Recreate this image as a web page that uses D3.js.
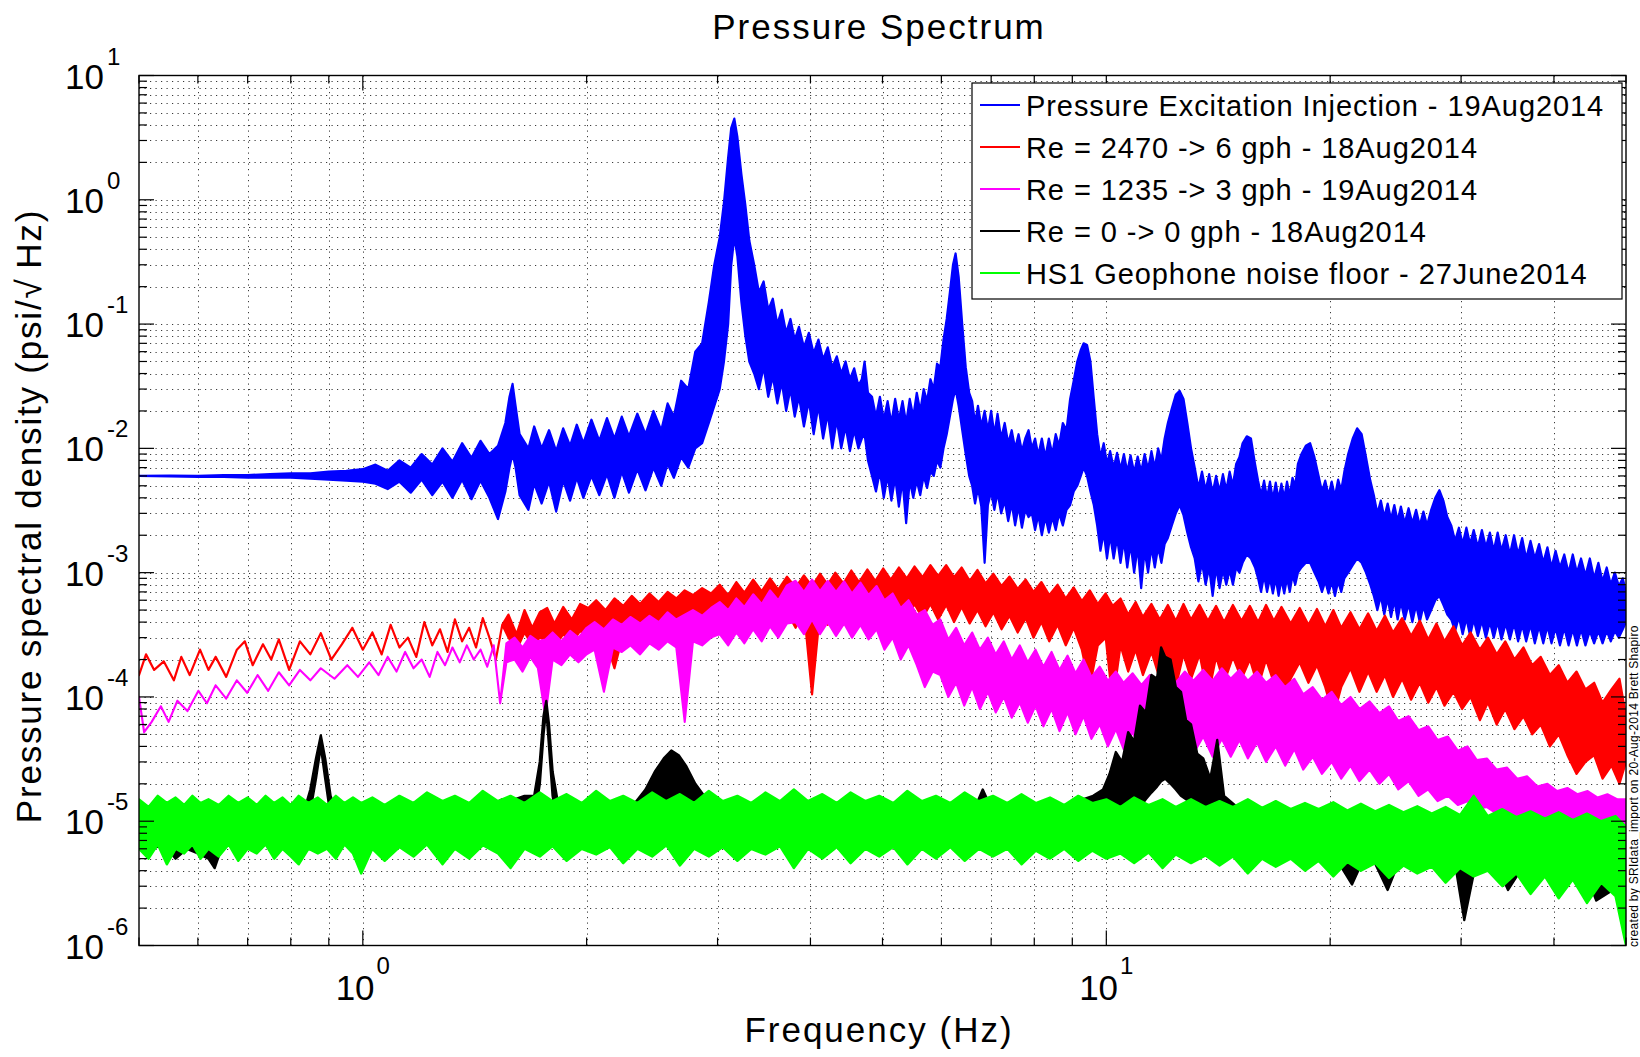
<!DOCTYPE html>
<html><head><meta charset="utf-8">
<script src="https://cdn.jsdelivr.net/npm/d3@7"></script>
<style>
body{margin:0;background:#fff}
svg{display:block}
text{font-family:"Liberation Sans",Arial,Helvetica,sans-serif;fill:#000}
</style>
</head><body>
<svg id="c" width="1640" height="1057"></svg>
<script>
// ---------------- data ----------------
const titleText = "Pressure Spectrum";
const xLabel = "Frequency (Hz)";
const yLabel = "Pressure spectral density (psi/\u221A\u2009Hz)";
const creditText = "created by SRIdata_import on 20-Aug-2014 Brett Shapiro";
const freqDomain = [0.5, 50];
const psdDomain = [1e-6, 10];
const xTickExps = [0, 1];
const yTickExps = [1, 0, -1, -2, -3, -4, -5, -6];
const seriesNames = [
  "Pressure Excitation Injection - 19Aug2014",
  "Re = 2470 -> 6 gph - 18Aug2014",
  "Re = 1235 -> 3 gph - 19Aug2014",
  "Re = 0 -> 0 gph - 18Aug2014",
  "HS1 Geophone noise floor - 27June2014"
];
const seriesColors = ["#0000ff", "#ff0000", "#ff00ff", "#000000", "#00ff00"];

// [frequency Hz, upper value, lower value] (lower omitted = single trace)
const bluePts = [
[0.5,6e-3,6e-3],[0.55,6.05e-3,5.95e-3],[0.6,6e-3,5.9e-3],[0.65,6.1e-3,5.9e-3],[0.7,6.1e-3,5.8e-3],[0.75,6.2e-3,5.8e-3],[0.8,6.3e-3,5.8e-3],[0.85,6.3e-3,5.7e-3],[0.9,6.5e-3,5.6e-3],[0.95,6.6e-3,5.5e-3],[1.0,6.8e-3,5.4e-3],
[1.04,7.4e-3,5.2e-3],[1.08,6.6e-3,4.7e-3],[1.12,8.0e-3,5.4e-3],[1.16,7.0e-3,4.4e-3],[1.2,9.0e-3,5.6e-3],[1.24,7.4e-3,4.2e-3],[1.28,1.0e-2,5.4e-3],[1.32,7.8e-3,4.0e-3],[1.36,1.1e-2,5.6e-3],[1.4,8.4e-3,3.9e-3],[1.44,1.15e-2,5.5e-3],[1.48,9e-3,4.0e-3],[1.52,1.05e-2,2.7e-3],
[1.555,1.6e-2,4.5e-3],[1.575,2.6e-2,7e-3],[1.59,3.3e-2,9e-3],[1.605,2.2e-2,7e-3],[1.625,1.3e-2,4.2e-3],
[1.67,1.0e-2,3.2e-3],[1.7,1.5e-2,5.2e-3],[1.74,1.0e-2,3.6e-3],[1.78,1.4e-2,5.4e-3],[1.82,9.5e-3,3.1e-3],[1.86,1.45e-2,5.5e-3],[1.9,1.05e-2,3.8e-3],[1.94,1.55e-2,5.8e-3],[1.98,1.1e-2,4.0e-3],[2.03,1.7e-2,6.0e-3],[2.08,1.15e-2,4.2e-3],[2.13,1.75e-2,6.2e-3],[2.18,1.2e-2,4.0e-3],[2.23,1.8e-2,6.5e-3],[2.28,1.25e-2,4.4e-3],[2.34,1.9e-2,6.8e-3],[2.4,1.3e-2,4.6e-3],[2.46,2.0e-2,7e-3],[2.52,1.4e-2,5e-3],
[2.57,2.3e-2,7.5e-3],[2.62,1.8e-2,5.8e-3],[2.68,3.5e-2,8.5e-3],[2.74,3.0e-2,7e-3],[2.8,6e-2,1e-2],[2.86,7e-2,1.1e-2],[2.92,0.15,1.6e-2],[2.97,0.3,2.2e-2],[3.02,0.5,3e-2],[3.06,0.95,5e-2],[3.1,2.2,0.1],[3.13,3.8,0.3],[3.16,4.5,0.5],[3.19,3.2,0.35],[3.23,1.6,0.15],[3.27,0.9,0.08],[3.31,0.47,5e-2],
[3.36,0.3,4e-2],[3.41,0.18,3.0e-2],[3.46,0.22,4.5e-2],[3.51,0.13,2.6e-2],[3.56,0.16,3.8e-2],[3.61,0.1,2.3e-2],[3.66,0.13,3.4e-2],[3.71,0.085,2.0e-2],[3.76,0.11,3.0e-2],[3.81,0.075,1.8e-2],
[3.86,0.095,2.6e-2],[3.92,0.065,1.5e-2],[3.98,0.085,2.4e-2],[4.04,0.058,1.3e-2],[4.1,0.075,2.2e-2],[4.16,0.052,1.2e-2],[4.22,0.065,1.9e-2],[4.28,0.045,1.0e-2],[4.34,0.055,1.7e-2],[4.4,0.04,1.0e-2],[4.46,0.05,1.5e-2],[4.52,0.036,9.5e-3],[4.58,0.044,1.4e-2],[4.64,0.032,1.0e-2],[4.69,0.036,1.2e-2],[4.73,0.05,1.3e-2],[4.78,0.028,8e-3],
[4.84,0.026,6e-3],[4.9,0.018,4.5e-3],[4.96,0.026,6.5e-3],[5.02,0.017,4e-3],[5.08,0.024,6e-3],[5.14,0.016,3.8e-3],[5.2,0.025,5.8e-3],[5.26,0.017,3.4e-3],[5.32,0.024,5.5e-3],[5.38,0.016,2.5e-3],[5.44,0.025,5.5e-3],[5.5,0.018,4e-3],
[5.56,0.028,5.5e-3],[5.62,0.02,4.2e-3],[5.68,0.03,6e-3],[5.74,0.024,4.8e-3],[5.8,0.036,6.5e-3],[5.86,0.03,6e-3],[5.92,0.048,8e-3],[5.98,0.045,7e-3],[6.04,0.075,1e-2],[6.1,0.11,1.3e-2],[6.16,0.18,1.8e-2],[6.22,0.3,2.5e-2],[6.27,0.37,3e-2],[6.33,0.24,2.2e-2],[6.4,0.1,1.4e-2],[6.47,0.045,9e-3],[6.54,0.028,6e-3],
[6.6,0.024,5e-3],[6.66,0.016,3.6e-3],[6.72,0.022,4.8e-3],[6.79,0.015,3.4e-3],[6.86,0.02,1.2e-3],[6.93,0.014,3.5e-3],[7.0,0.02,4.5e-3],[7.07,0.013,3.2e-3],[7.14,0.019,4.4e-3],[7.22,0.012,3.0e-3],
[7.3,0.016,3.8e-3],[7.38,0.011,2.6e-3],[7.46,0.014,3.6e-3],[7.54,0.01,2.4e-3],[7.62,0.013,3.4e-3],[7.7,0.0095,2.3e-3],[7.78,0.012,3.2e-3],[7.86,0.014,2.8e-3],[7.94,0.01,3.0e-3],[8.02,0.012,2.2e-3],[8.1,0.0088,2.9e-3],[8.19,0.012,2.0e-3],[8.28,0.0085,2.8e-3],[8.37,0.012,2.1e-3],[8.46,0.009,2.8e-3],[8.55,0.013,2.2e-3],[8.64,0.0105,3e-3],[8.74,0.016,2.4e-3],[8.84,0.014,3.2e-3],
[8.94,0.025,3.5e-3],[9.04,0.035,4.5e-3],[9.14,0.05,5e-3],[9.24,0.062,6e-3],[9.32,0.07,7e-3],[9.42,0.068,6e-3],[9.52,0.05,4.5e-3],[9.62,0.025,3.5e-3],
[9.72,0.013,2.4e-3],[9.82,0.0085,1.5e-3],[9.92,0.011,2.1e-3],[10.02,0.0075,1.3e-3],[10.12,0.0095,2e-3],[10.23,0.007,1.3e-3],[10.34,0.0092,1.9e-3],[10.45,0.0068,1.2e-3],[10.56,0.009,1.8e-3],[10.67,0.0065,1.1e-3],[10.78,0.0088,1.7e-3],[10.9,0.0064,1.0e-3],[11.02,0.0086,1.6e-3],[11.14,0.0065,7.5e-4],[11.26,0.009,1.5e-3],[11.38,0.0068,1.0e-3],[11.5,0.0095,1.6e-3],[11.62,0.007,1.1e-3],[11.74,0.01,1.6e-3],[11.86,0.008,1.2e-3],[11.98,0.012,1.7e-3],
[12.1,0.016,1.9e-3],[12.25,0.021,2.4e-3],[12.4,0.027,3e-3],[12.55,0.029,3.5e-3],[12.7,0.025,2.9e-3],[12.85,0.016,2.1e-3],[13.0,0.01,1.6e-3],
[13.15,0.007,1.3e-3],[13.3,0.0048,8.5e-4],[13.45,0.0065,1.2e-3],[13.6,0.0046,8e-4],[13.75,0.0062,1.1e-3],[13.9,0.0044,6.5e-4],[14.05,0.006,1.1e-3],[14.2,0.0045,7.5e-4],[14.35,0.0062,1.05e-3],[14.5,0.0046,8e-4],[14.65,0.0065,1.05e-3],[14.8,0.005,8e-4],[14.95,0.0075,1.1e-3],[15.1,0.0085,1.0e-3],
[15.25,0.011,1.2e-3],[15.45,0.0125,1.4e-3],[15.65,0.012,1.3e-3],[15.85,0.0075,1.1e-3],
[16.0,0.0055,9e-4],[16.15,0.0042,7e-4],[16.3,0.0055,9.5e-4],[16.45,0.004,7e-4],[16.6,0.0054,9e-4],[16.75,0.0039,6.8e-4],[16.9,0.0053,9e-4],[17.05,0.0039,6.5e-4],[17.2,0.0052,8.8e-4],[17.35,0.004,6.8e-4],[17.5,0.0054,9e-4],[17.65,0.0042,7e-4],[17.8,0.0058,9.5e-4],[17.95,0.005,8e-4],[18.1,0.0075,1e-3],
[18.3,0.009,1.1e-3],[18.55,0.0105,1.2e-3],[18.8,0.011,1.2e-3],[19.05,0.0085,1.0e-3],[19.3,0.006,8.5e-4],
[19.5,0.0045,7e-4],[19.7,0.0055,8.5e-4],[19.9,0.0042,6.8e-4],[20.1,0.0054,8.5e-4],[20.3,0.0041,6.5e-4],[20.5,0.0056,8.5e-4],[20.7,0.0046,7e-4],[20.9,0.0065,9e-4],
[21.15,0.009,1e-3],[21.45,0.012,1.15e-3],[21.75,0.0145,1.3e-3],[22.05,0.013,1.2e-3],[22.35,0.0085,1e-3],[22.65,0.0055,8e-4],
[22.9,0.0042,6.5e-4],[23.15,0.003,5e-4],[23.4,0.0038,6.5e-4],[23.65,0.0028,4.6e-4],[23.9,0.0036,6.2e-4],[24.15,0.0027,4.4e-4],[24.4,0.0035,6e-4],[24.65,0.0026,4.2e-4],[24.9,0.0034,5.8e-4],[25.2,0.0025,4.2e-4],[25.5,0.0033,5.6e-4],[25.8,0.0025,4e-4],[26.1,0.0032,5.5e-4],[26.4,0.0024,4e-4],[26.7,0.0031,5.4e-4],[27.0,0.0024,4.2e-4],
[27.35,0.0032,5e-4],[27.7,0.004,6e-4],[28.05,0.0046,6.5e-4],[28.4,0.0038,5.5e-4],[28.75,0.0028,4.6e-4],
[29.1,0.0024,4.2e-4],[29.45,0.0018,3.4e-4],[29.8,0.0023,4.4e-4],[30.15,0.0017,3.2e-4],[30.5,0.0023,4.3e-4],[30.85,0.0017,3.1e-4],[31.2,0.0022,4.2e-4],[31.6,0.0016,3.1e-4],[32.0,0.0022,4.1e-4],[32.4,0.0016,3.0e-4],[32.8,0.0021,4.0e-4],[33.2,0.0015,3.0e-4],[33.6,0.0021,4.0e-4],[34.0,0.0015,2.9e-4],[34.45,0.002,3.9e-4],[34.9,0.0014,2.9e-4],[35.35,0.002,3.9e-4],[35.8,0.0014,2.8e-4],
[36.25,0.0019,3.8e-4],[36.7,0.0013,2.8e-4],[37.2,0.0018,3.8e-4],[37.7,0.0013,2.7e-4],[38.2,0.0017,3.7e-4],[38.7,0.0012,2.7e-4],[39.2,0.0016,3.7e-4],[39.7,0.0011,2.7e-4],[40.2,0.0015,3.6e-4],[40.75,0.0011,2.6e-4],[41.3,0.0014,3.6e-4],[41.85,0.001,2.6e-4],[42.4,0.0014,3.5e-4],[42.95,0.001,2.6e-4],[43.5,0.0013,3.5e-4],[44.1,0.00095,2.6e-4],[44.7,0.0013,3.4e-4],[45.3,0.0009,2.7e-4],[45.9,0.0012,3.4e-4],[46.5,0.00085,2.7e-4],[47.1,0.0011,3.4e-4],[47.7,0.0008,2.8e-4],[48.3,0.001,3.4e-4],[48.9,0.00078,3e-4],[49.5,0.0009,3.5e-4],[50,0.0007,4e-4]
];

const redPts = [
[0.5,1.5e-4],[0.511,2.2e-4],[0.524,1.65e-4],[0.54,1.93e-4],[0.557,1.36e-4],[0.57,2.1e-4],[0.585,1.5e-4],[0.604,2.4e-4],[0.62,1.65e-4],[0.634,2.1e-4],[0.655,1.45e-4],[0.677,2.4e-4],[0.694,2.8e-4],[0.711,1.8e-4],[0.734,2.65e-4],[0.753,2.0e-4],[0.771,2.9e-4],[0.796,1.65e-4],[0.823,2.8e-4],[0.85,2.2e-4],[0.878,3.26e-4],[0.907,2.0e-4],[0.937,2.65e-4],[0.968,3.6e-4],[1.0,2.4e-4],
[1.03,3.3e-4],[1.06,2.2e-4],[1.09,3.8e-4],[1.12,2.5e-4],[1.15,3.0e-4],[1.18,2.1e-4],[1.21,4.0e-4],[1.24,2.6e-4],[1.27,3.5e-4],[1.3,2.3e-4],[1.33,4.2e-4],[1.36,2.8e-4],[1.39,3.6e-4],[1.42,2.5e-4],[1.45,4.3e-4],[1.48,3.0e-4],[1.51,2.0e-4],[1.54,3.8e-4],
[1.57,4.6e-4,3.0e-4],[1.61,3.2e-4,2.4e-4],[1.65,5e-4,3.3e-4],[1.69,3.6e-4,2.6e-4],[1.73,4.8e-4,3e-4],[1.77,5.2e-4,2.8e-4],[1.81,3.9e-4,2.5e-4],[1.86,5.3e-4,3.2e-4],[1.91,4.2e-4,2.7e-4],[1.96,5.6e-4,3.4e-4],
[2.01,5.2e-4,3e-4],[2.06,6e-4,3.4e-4],[2.12,5e-4,2.9e-4],[2.18,6.2e-4,1.7e-4],[2.24,5.4e-4,3.2e-4],[2.3,6.5e-4,3.5e-4],[2.36,5.6e-4,3e-4],[2.43,6.8e-4,3.6e-4],[2.5,5.8e-4,3.1e-4],[2.57,7e-4,3.8e-4],[2.64,6.2e-4,3.3e-4],[2.71,7.2e-4,4e-4],[2.78,6.6e-4,3.5e-4],[2.86,7.5e-4,3.9e-4],[2.94,6.8e-4,3.6e-4],
[3.02,8e-4,4.2e-4],[3.1,6.6e-4,3.2e-4],[3.18,8.4e-4,4.4e-4],[3.26,6.9e-4,3.3e-4],[3.35,8.8e-4,4.6e-4],[3.44,7.1e-4,3.4e-4],[3.53,9e-4,4.7e-4],[3.62,7.3e-4,3.5e-4],[3.72,9.3e-4,4.8e-4],[3.82,7.6e-4,3.6e-4],[3.92,9.5e-4,5e-4],[4.02,7.8e-4,1.05e-4],[4.12,9.8e-4,4.8e-4],
[4.22,8e-4,3.8e-4],[4.32,1.0e-3,5e-4],[4.43,8.2e-4,3.8e-4],[4.54,1.04e-3,5.2e-4],[4.65,8.4e-4,4e-4],[4.77,1.06e-3,5.4e-4],[4.89,8.6e-4,4.1e-4],
[5.01,1.08e-3,5.5e-4],[5.13,8.8e-4,4.2e-4],[5.26,1.1e-3,5.5e-4],[5.39,9e-4,4.2e-4],[5.52,1.12e-3,5.6e-4],[5.66,9.2e-4,4.3e-4],[5.8,1.15e-3,5.6e-4],[5.94,9.4e-4,4.2e-4],[6.09,1.15e-3,5.5e-4],[6.24,9.2e-4,4.0e-4],[6.39,1.1e-3,5.3e-4],
[6.55,8.6e-4,3.9e-4],[6.71,1.05e-3,5e-4],[6.88,8.2e-4,3.7e-4],[7.05,9.8e-4,4.8e-4],[7.23,7.8e-4,3.5e-4],[7.41,9.3e-4,4.5e-4],[7.6,7.4e-4,3.3e-4],[7.79,8.8e-4,4.3e-4],[7.98,7e-4,3.0e-4],[8.18,8.4e-4,4.0e-4],[8.38,6.6e-4,2.8e-4],
[8.6,8e-4,3.8e-4],[8.82,6.2e-4,2.6e-4],[9.04,7.6e-4,3.6e-4],[9.27,5.9e-4,2.4e-4],[9.5,7.2e-4,1.2e-4],[9.74,5.6e-4,2.6e-4],[9.98,6.8e-4,3.0e-4],[10.2,5.4e-4,9e-5],
[10.45,6.2e-4,2.6e-4],[10.7,4.6e-4,1.6e-4],[10.95,5.8e-4,2.4e-4],[11.2,4.4e-4,1.5e-4],[11.5,5.6e-4,2.3e-4],[11.8,4.2e-4,1.4e-4],[12.1,5.5e-4,2.2e-4],[12.4,4.1e-4,1.2e-4],[12.7,5.6e-4,2.2e-4],[13.0,4.2e-4,1.4e-4],[13.35,5.5e-4,2.2e-4],[13.7,4.1e-4,1.0e-4],[14.05,5.4e-4,2.1e-4],[14.4,4.0e-4,1.3e-4],[14.8,5.5e-4,2.1e-4],[15.2,4.1e-4,1.4e-4],[15.6,5.4e-4,2.0e-4],
[16.0,4.0e-4,1.2e-4],[16.4,5.5e-4,2.0e-4],[16.8,4.1e-4,1.3e-4],[17.2,5.3e-4,8.5e-5],[17.7,3.9e-4,1.4e-4],[18.2,5.2e-4,1.9e-4],[18.7,3.8e-4,1.3e-4],[19.2,5.1e-4,1.8e-4],[19.7,3.7e-4,1.2e-4],[20.2,5.0e-4,7e-5],[20.7,3.6e-4,1.2e-4],[21.3,4.8e-4,1.7e-4],[21.9,3.5e-4,1.1e-4],[22.5,4.7e-4,1.6e-4],[23.1,3.4e-4,1.1e-4],[23.7,4.5e-4,1.5e-4],[24.3,3.3e-4,1.0e-4],[25.0,4.3e-4,1.4e-4],
[25.7,3.1e-4,9.5e-5],[26.4,4.1e-4,1.3e-4],[27.1,2.9e-4,9e-5],[27.8,3.9e-4,1.2e-4],[28.5,2.8e-4,8.5e-5],[29.3,3.7e-4,1.1e-4],[30.1,2.6e-4,8e-5],
[30.9,3.3e-4,1.0e-4],[31.8,2.4e-4,6.5e-5],[32.6,3.0e-4,9e-5],[33.5,2.2e-4,6e-5],[34.4,2.8e-4,8e-5],[35.4,2.0e-4,5.5e-5],[36.4,2.5e-4,7e-5],[37.4,1.8e-4,5e-5],
[38.4,2.1e-4,6e-5],[39.5,1.5e-4,4e-5],[40.6,1.8e-4,5e-5],[41.7,1.3e-4,3.4e-5],[42.9,1.6e-4,2.4e-5],[44.1,1.15e-4,3e-5],
[45.3,1.3e-4,3.4e-5],[46.5,9e-5,2.2e-5],[47.8,1.15e-4,2.8e-5],[49.0,1.4e-4,2.0e-5],[50,7e-5,3e-5]
];

const magentaPts = [
[0.5,1.0e-4],[0.508,5.2e-5],[0.52,6.3e-5],[0.535,8.4e-5],[0.548,6.3e-5],[0.563,9.3e-5],[0.581,7.7e-5],[0.601,1.12e-4],[0.617,8.9e-5],[0.634,1.24e-4],[0.655,9.7e-5],[0.677,1.36e-4],[0.699,1.08e-4],[0.722,1.5e-4],[0.746,1.12e-4],[0.771,1.58e-4],[0.796,1.24e-4],[0.823,1.65e-4],[0.85,1.36e-4],[0.878,1.7e-4],[0.916,1.4e-4],[0.953,1.8e-4],[0.985,1.45e-4],
[1.02,1.9e-4],[1.05,1.5e-4],[1.08,2.1e-4],[1.11,1.6e-4],[1.14,2.3e-4],[1.17,1.7e-4],[1.2,2.0e-4],[1.23,1.45e-4],[1.26,2.3e-4],[1.29,1.8e-4],[1.32,2.5e-4],[1.35,1.9e-4],[1.38,2.6e-4],[1.41,2.0e-4],[1.44,2.4e-4],[1.47,1.75e-4],[1.5,2.6e-4],
[1.53,8.9e-5],[1.56,2.7e-4,1.9e-4],[1.6,3.0e-4,2.0e-4],[1.64,2.5e-4,1.6e-4],[1.68,3.1e-4,2.1e-4],[1.72,2.8e-4,1.7e-4],[1.76,2.9e-4,7e-5],[1.8,3.3e-4,2.0e-4],[1.85,2.8e-4,1.8e-4],[1.9,3.4e-4,2.2e-4],[1.95,3.0e-4,1.9e-4],
[2.0,3.6e-4,2.2e-4],[2.05,4.0e-4,2.4e-4],[2.11,3.5e-4,1.1e-4],[2.17,4.2e-4,2.5e-4],[2.23,3.8e-4,2.3e-4],[2.29,4.4e-4,2.6e-4],[2.36,3.9e-4,2.2e-4],[2.43,4.5e-4,2.7e-4],[2.5,4.0e-4,2.4e-4],[2.57,4.8e-4,2.8e-4],[2.64,4.2e-4,2.5e-4],[2.71,4.6e-4,6.3e-5],[2.78,5.0e-4,2.8e-4],[2.86,4.5e-4,2.6e-4],[2.94,5.2e-4,3.0e-4],
[3.02,5.8e-4,3.2e-4],[3.1,5.0e-4,2.6e-4],[3.18,6.2e-4,3.3e-4],[3.26,5.3e-4,2.7e-4],[3.35,6.7e-4,3.5e-4],[3.44,5.6e-4,2.8e-4],[3.53,7.2e-4,3.7e-4],[3.62,6.0e-4,3.0e-4],[3.72,7.9e-4,3.9e-4],
[3.82,8.6e-4,4.0e-4],[3.92,7.0e-4,3.2e-4],[4.02,8.8e-4,4.2e-4],[4.12,7.1e-4,3.2e-4],[4.22,8.6e-4,4.0e-4],[4.33,7.0e-4,3.1e-4],[4.44,8.5e-4,3.9e-4],[4.55,6.8e-4,3.0e-4],[4.67,8.3e-4,3.8e-4],[4.79,6.6e-4,2.9e-4],[4.91,7.8e-4,3.5e-4],
[5.03,6.0e-4,2.4e-4],[5.16,6.8e-4,3.0e-4],[5.29,5.2e-4,2.0e-4],[5.42,6.0e-4,2.6e-4],[5.56,4.6e-4,1.8e-4],[5.7,5.0e-4,1.2e-4],[5.84,3.8e-4,1.6e-4],
[5.98,4.2e-4,1.5e-4],[6.13,2.9e-4,1.0e-4],[6.28,3.6e-4,1.3e-4],[6.44,2.6e-4,8.5e-5],[6.6,3.3e-4,1.2e-4],[6.76,2.4e-4,8e-5],[6.93,3.0e-4,1.1e-4],[7.1,2.2e-4,7.5e-5],[7.28,2.8e-4,1.0e-4],
[7.46,2.0e-4,6.8e-5],[7.65,2.6e-4,9e-5],[7.84,1.9e-4,6.2e-5],[8.03,2.4e-4,8.5e-5],[8.23,1.75e-4,5.8e-5],[8.44,2.3e-4,8e-5],[8.65,1.65e-4,5.3e-5],[8.87,2.15e-4,7.5e-5],[9.09,1.55e-4,5e-5],[9.32,2.0e-4,7e-5],
[9.55,1.45e-4,4.6e-5],[9.8,1.75e-4,6e-5],[10.05,1.35e-4,4.0e-5],[10.3,1.6e-4,5.5e-5],[10.55,1.3e-4,3.8e-5],[10.85,1.55e-4,5.2e-5],[11.15,1.25e-4,3.6e-5],[11.45,1.5e-4,5e-5],[11.75,1.25e-4,3.6e-5],
[12.05,1.55e-4,5e-5],[12.4,1.3e-4,3.6e-5],[12.75,1.6e-4,4.8e-5],[13.1,1.35e-4,3.5e-5],[13.5,1.65e-4,4.8e-5],[13.9,1.35e-4,3.3e-5],[14.3,1.7e-4,4.6e-5],[14.7,1.4e-4,3.3e-5],[15.1,1.65e-4,4.5e-5],[15.5,1.35e-4,3.2e-5],[15.95,1.6e-4,4.3e-5],[16.4,1.3e-4,3.0e-5],[16.9,1.5e-4,4e-5],[17.4,1.2e-4,2.8e-5],[17.9,1.4e-4,3.8e-5],
[18.4,1.05e-4,2.6e-5],[18.95,1.2e-4,3.3e-5],[19.5,9.5e-5,2.4e-5],[20.1,1.1e-4,3.0e-5],[20.7,8.6e-5,2.2e-5],[21.3,1.0e-4,2.8e-5],[21.9,8e-5,2.1e-5],[22.6,9.2e-5,2.6e-5],[23.3,7.4e-5,2.0e-5],[24.0,8.4e-5,2.4e-5],
[24.7,6.4e-5,1.8e-5],[25.5,7.0e-5,2.1e-5],[26.3,5.4e-5,1.6e-5],[27.1,5.8e-5,1.8e-5],[27.9,4.5e-5,1.45e-5],[28.8,4.8e-5,1.6e-5],[29.7,3.7e-5,1.35e-5],[30.6,4.0e-5,1.45e-5],[31.5,3.1e-5,1.25e-5],
[32.5,3.2e-5,1.3e-5],[33.5,2.6e-5,1.15e-5],[34.6,2.7e-5,1.2e-5],[35.7,2.2e-5,1.05e-5],[36.8,2.3e-5,1.1e-5],[38,1.9e-5,1.0e-5],[39.2,2.0e-5,1.05e-5],[40.4,1.75e-5,9.5e-6],[41.7,1.85e-5,1.0e-5],[43,1.65e-5,9e-6],[44.4,1.75e-5,9.5e-6],[45.8,1.55e-5,8.5e-6],[47.2,1.65e-5,9e-6],[48.7,1.5e-5,8e-6],[50,1.5e-5,8.5e-6]
];

const blackPts = [
[0.5,1.1e-5,7e-6],[0.52,1.3e-5,6e-6],[0.54,1.0e-5,6.5e-6],[0.56,1.2e-5,5e-6],[0.58,1.0e-5,6e-6],[0.6,1.1e-5,5.5e-6],[0.62,1.0e-5,5e-6],[0.632,8e-6,4.2e-6],[0.645,1.0e-5,6e-6],[0.67,1.2e-5,7e-6],[0.7,1.4e-5,8e-6],[0.73,1.2e-5,7e-6],[0.76,1.4e-5,8e-6],[0.79,1.2e-5,7e-6],
[0.83,1.1e-5,8e-6],[0.85,1.8e-5,1.2e-5],[0.865,3.2e-5,2.2e-5],[0.878,4.9e-5,4e-5],[0.89,3.2e-5,2.2e-5],[0.905,1.6e-5,1.1e-5],[0.93,1.0e-5,7e-6],
[0.97,1.2e-5,8e-6],[1.02,1.1e-5,7e-6],[1.08,1.2e-5,7.5e-6],[1.14,1.1e-5,6.5e-6],[1.2,1.3e-5,7e-6],[1.26,1.2e-5,7e-6],[1.33,1.1e-5,6.5e-6],[1.4,1.2e-5,7e-6],[1.47,1.3e-5,8e-6],[1.54,1.5e-5,9e-6],[1.6,1.5e-5,1e-5],[1.65,1.6e-5,1e-5],[1.7,1.6e-5,1e-5],
[1.73,3e-5,2e-5],[1.75,7e-5,5e-5],[1.765,9.3e-5,8e-5],[1.78,6e-5,4e-5],[1.8,2.5e-5,1.6e-5],[1.83,1.4e-5,9e-6],
[1.9,1.3e-5,8e-6],[2.0,1.2e-5,7e-6],[2.1,1.3e-5,7.5e-6],[2.2,1.2e-5,7e-6],[2.3,1.3e-5,8e-6],
[2.4,1.8e-5,1.1e-5],[2.47,2.5e-5,1.2e-5],[2.54,3.2e-5,1.4e-5],[2.6,3.7e-5,1.5e-5],[2.66,3.4e-5,1.4e-5],[2.72,2.8e-5,1.3e-5],[2.8,2e-5,1.1e-5],[2.9,1.5e-5,9e-6],
[3.0,1.3e-5,8e-6],[3.2,1.2e-5,7e-6],[3.4,1.3e-5,7.5e-6],[3.6,1.2e-5,7e-6],[3.8,1.3e-5,7e-6],[4.0,1.2e-5,6.5e-6],[4.3,1.3e-5,7e-6],[4.6,1.2e-5,6.5e-6],[4.9,1.3e-5,7e-6],[5.2,1.2e-5,6.5e-6],[5.5,1.3e-5,7e-6],[5.8,1.2e-5,6.5e-6],[6.1,1.3e-5,7e-6],[6.4,1.2e-5,7e-6],
[6.7,1.4e-5,8e-6],[6.82,1.8e-5,1e-5],[6.95,1.4e-5,8e-6],
[7.2,1.3e-5,7e-6],[7.5,1.2e-5,6.5e-6],[7.8,1.3e-5,7e-6],[8.1,1.2e-5,6.5e-6],[8.4,1.3e-5,7e-6],[8.7,1.3e-5,7e-6],[9.0,1.4e-5,7.5e-6],[9.3,1.5e-5,8e-6],[9.6,1.6e-5,8e-6],[9.9,1.8e-5,9e-6],
[10.1,2.4e-5,9e-6],[10.3,3.6e-5,1e-5],[10.5,3.0e-5,1e-5],[10.7,5.2e-5,1.1e-5],[10.9,4.4e-5,1.2e-5],[11.1,8.5e-5,1.3e-5],[11.3,7.5e-5,1.5e-5],[11.5,1.5e-4,1.7e-5],[11.7,1.4e-4,1.9e-5],[11.85,2.5e-4,2.1e-5],[12.0,2.1e-4,2.2e-5],[12.2,2.0e-4,2e-5],[12.4,1.2e-4,1.8e-5],[12.6,1.1e-4,1.6e-5],[12.8,6.5e-5,1.5e-5],[13.0,6.0e-5,1.4e-5],[13.25,3.5e-5,1.2e-5],[13.5,3.2e-5,1.1e-5],[13.8,2.2e-5,1.0e-5],[14.1,4.5e-5,1.0e-5],[14.4,1.6e-5,9e-6],
[15,1.3e-5,7e-6],[16,1.2e-5,6.5e-6],[17,1.3e-5,7e-6],[18,1.2e-5,6e-6],[19,1.2e-5,6.5e-6],[20,1.15e-5,6e-6],[21.4,1.2e-5,3.1e-6],[22.5,1.1e-5,6e-6],[23.9,1.15e-5,2.8e-6],[25,1.1e-5,5.5e-6],[26.5,1.1e-5,6e-6],[28,1.05e-5,5e-6],[29.3,1.1e-5,5.5e-6],[30.3,1.0e-5,1.6e-6],[31.5,1.05e-5,5e-6],[33,1.0e-5,5.5e-6],[34.7,1.0e-5,2.8e-6],[36.5,1.0e-5,4.5e-6],[38,9.5e-6,5e-6],[40,9.5e-6,4.5e-6],[42,9e-6,5e-6],[44,9.5e-6,4e-6],[45.6,9e-6,2.3e-6],[48,9e-6,2.8e-6],[50,8.5e-6,4e-6]
];

const greenPts = [
[0.5,1.5e-5,6e-6],[0.515,1.3e-5,5e-6],[0.53,1.6e-5,6.5e-6],[0.545,1.4e-5,4.5e-6],[0.56,1.55e-5,6e-6],[0.575,1.35e-5,5.5e-6],[0.59,1.6e-5,6.5e-6],[0.605,1.4e-5,5e-6],[0.62,1.5e-5,6e-6],[0.64,1.35e-5,5.2e-6],[0.66,1.6e-5,6.5e-6],[0.68,1.4e-5,4.8e-6],[0.7,1.55e-5,6e-6],[0.72,1.35e-5,5.5e-6],[0.74,1.6e-5,6.5e-6],[0.76,1.4e-5,5e-6],[0.78,1.55e-5,6e-6],[0.8,1.35e-5,5.2e-6],[0.82,1.6e-5,4.5e-6],[0.845,1.4e-5,6e-6],[0.87,1.55e-5,5.5e-6],[0.895,1.35e-5,6e-6],[0.92,1.6e-5,5e-6],[0.945,1.4e-5,6.5e-6],[0.97,1.55e-5,5.5e-6],[0.995,1.4e-5,3.8e-6],
[1.03,1.55e-5,6e-6],[1.07,1.35e-5,4.8e-6],[1.12,1.6e-5,6.2e-6],[1.17,1.4e-5,5.2e-6],[1.22,1.7e-5,6.5e-6],[1.28,1.45e-5,4.5e-6],[1.33,1.6e-5,6e-6],[1.39,1.4e-5,5e-6],[1.45,1.75e-5,6.4e-6],[1.52,1.45e-5,5.5e-6],[1.58,1.6e-5,4.2e-6],[1.65,1.4e-5,6e-6],[1.73,1.7e-5,5.2e-6],[1.8,1.45e-5,6.3e-6],[1.88,1.65e-5,4.8e-6],[1.97,1.4e-5,6e-6],
[2.06,1.75e-5,5.4e-6],[2.15,1.45e-5,6.2e-6],[2.24,1.6e-5,4.6e-6],[2.34,1.4e-5,6e-6],[2.45,1.7e-5,5.2e-6],[2.56,1.45e-5,6.4e-6],[2.67,1.65e-5,4.4e-6],[2.79,1.4e-5,6e-6],[2.92,1.75e-5,5.2e-6],[3.05,1.45e-5,6.2e-6],[3.19,1.6e-5,4.8e-6],[3.33,1.4e-5,6e-6],[3.48,1.7e-5,5.4e-6],[3.64,1.45e-5,6.3e-6],[3.8,1.8e-5,4.2e-6],[3.97,1.45e-5,6e-6],
[4.15,1.65e-5,5e-6],[4.34,1.4e-5,6.2e-6],[4.53,1.7e-5,4.6e-6],[4.74,1.45e-5,6e-6],[4.95,1.6e-5,5.2e-6],[5.17,1.4e-5,6.2e-6],[5.4,1.75e-5,4.5e-6],[5.65,1.45e-5,6e-6],[5.9,1.6e-5,5e-6],[6.17,1.4e-5,6.2e-6],[6.45,1.7e-5,4.8e-6],[6.74,1.45e-5,6e-6],[7.04,1.6e-5,5.2e-6],[7.36,1.4e-5,6e-6],[7.69,1.65e-5,4.5e-6],[8.04,1.4e-5,5.8e-6],[8.4,1.55e-5,5e-6],[8.78,1.35e-5,6e-6],[9.17,1.6e-5,4.8e-6],[9.58,1.4e-5,5.8e-6],[10.0,1.5e-5,5e-6],
[10.45,1.3e-5,5.5e-6],[10.9,1.55e-5,4.6e-6],[11.4,1.35e-5,5.6e-6],[11.9,1.5e-5,4.2e-6],[12.4,1.3e-5,5.4e-6],[13,1.5e-5,4.6e-6],[13.6,1.3e-5,5.3e-6],[14.2,1.45e-5,4.4e-6],[14.8,1.3e-5,5.2e-6],[15.5,1.5e-5,3.8e-6],[16.2,1.28e-5,5e-6],[16.9,1.45e-5,4.3e-6],[17.7,1.25e-5,5e-6],[18.5,1.4e-5,4e-6],[19.3,1.25e-5,4.8e-6],[20.2,1.42e-5,3.6e-6],[21.1,1.22e-5,4.7e-6],[22,1.38e-5,4e-6],[23,1.2e-5,4.6e-6],[24,1.35e-5,3.5e-6],
[25.1,1.18e-5,4.4e-6],[26.2,1.32e-5,3.8e-6],[27.4,1.15e-5,4.3e-6],[28.6,1.3e-5,3.2e-6],[29.9,1.12e-5,4.2e-6],[31.2,1.6e-5,3.6e-6],[32.6,1.1e-5,4e-6],[34.1,1.25e-5,3e-6],[35.6,1.08e-5,3.8e-6],[37.2,1.2e-5,2.6e-6],[38.9,1.05e-5,3.6e-6],[40.6,1.18e-5,2.4e-6],[42.4,1.02e-5,3.4e-6],[44.3,1.15e-5,2.2e-6],[46.3,1.0e-5,3.2e-6],[48.4,1.1e-5,2.5e-6],[50,9e-6,1e-6]
];

const seriesData = [bluePts, redPts, magentaPts, blackPts, greenPts];
const seriesWidths = [2.2, 2.2, 2.1, 2.4, 2.4];

// ---------------- drawing ----------------
const svg = d3.select("#c");
const M = {l: 139, t: 75.5, r: 1626, b: 945.5};
const x = d3.scaleLog().domain(freqDomain).range([M.l, M.r]);
const y = d3.scaleLog().domain(psdDomain).range([M.b, M.t]);
const isMajor = v => Math.abs(Math.log10(v) - Math.round(Math.log10(v))) < 1e-9;

svg.append("rect").attr("width", 1640).attr("height", 1057).attr("fill", "#fff");

// grid
const gGrid = svg.append("g").attr("stroke", "#3a3a3a").attr("stroke-width", 1).attr("stroke-dasharray", "1.2,4.3");
x.ticks().filter(t => x(t) > M.l + 1 && x(t) < M.r - 1).forEach(t => {
  gGrid.append("line").attr("x1", Math.round(x(t)) + 0.5).attr("x2", Math.round(x(t)) + 0.5).attr("y1", M.t).attr("y2", M.b);
});
y.ticks().filter(t => y(t) > M.t + 1 && y(t) < M.b - 1).forEach(t => {
  gGrid.append("line").attr("y1", Math.round(y(t)) + 0.5).attr("y2", Math.round(y(t)) + 0.5).attr("x1", M.l).attr("x2", M.r);
});

// series
svg.append("clipPath").attr("id", "clip").append("rect")
  .attr("x", M.l).attr("y", M.t).attr("width", M.r - M.l).attr("height", M.b - M.t);
const area = d3.area()
  .x(d => x(d[0]))
  .y1(d => y(d[1]))
  .y0(d => y(d.length > 2 ? d[2] : d[1]));
const gSeries = svg.append("g").attr("clip-path", "url(#clip)");
seriesData.forEach((pts, i) => {
  gSeries.append("path").attr("d", area(pts))
    .attr("fill", seriesColors[i]).attr("stroke", seriesColors[i])
    .attr("stroke-width", seriesWidths[i]).attr("stroke-linejoin", "round");
});

// ticks + box
const gAx = svg.append("g").attr("stroke", "#000").attr("stroke-width", 1.2);
const majLen = 15, minLen = 8;
x.ticks().forEach(t => {
  const px = x(t), L = isMajor(t) ? majLen : minLen;
  gAx.append("line").attr("x1", px).attr("x2", px).attr("y1", M.b).attr("y2", M.b - L);
  gAx.append("line").attr("x1", px).attr("x2", px).attr("y1", M.t).attr("y2", M.t + L);
});
y.ticks().forEach(t => {
  const py = y(t), L = isMajor(t) ? majLen : minLen;
  gAx.append("line").attr("y1", py).attr("y2", py).attr("x1", M.l).attr("x2", M.l + L);
  gAx.append("line").attr("y1", py).attr("y2", py).attr("x1", M.r).attr("x2", M.r - L);
});
svg.append("rect").attr("x", M.l).attr("y", M.t).attr("width", M.r - M.l).attr("height", M.b - M.t)
  .attr("fill", "none").attr("stroke", "#000").attr("stroke-width", 1.4);

// tick labels
xTickExps.forEach(e => {
  const t = svg.append("text").attr("x", x(Math.pow(10, e))).attr("y", 1000).attr("text-anchor", "middle");
  t.append("tspan").attr("font-size", 35).text("10");
  t.append("tspan").attr("font-size", 24).attr("dx", 2).attr("dy", -26).text(String(e));
});
yTickExps.forEach(e => {
  const t = svg.append("text").attr("x", 65).attr("y", y(Math.pow(10, e)) + 13).attr("text-anchor", "start");
  t.append("tspan").attr("font-size", 35).text("10");
  t.append("tspan").attr("font-size", 24).attr("dx", 3).attr("dy", -24).text(String(e));
});

// titles
svg.append("text").attr("x", 879).attr("y", 39).attr("text-anchor", "middle")
  .attr("font-size", 35).attr("letter-spacing", 2).text(titleText);
svg.append("text").attr("x", 879).attr("y", 1042).attr("text-anchor", "middle")
  .attr("font-size", 35).attr("letter-spacing", 2).text(xLabel);
svg.append("text").attr("transform", "translate(41,516) rotate(-90)").attr("text-anchor", "middle")
  .attr("font-size", 35).attr("letter-spacing", 1.8).text(yLabel);
svg.append("text").attr("transform", "translate(1638,947) rotate(-90)").attr("text-anchor", "start")
  .attr("font-size", 12).attr("letter-spacing", 0.3).text(creditText);

// legend
const lg = svg.append("g");
lg.append("rect").attr("x", 972).attr("y", 83).attr("width", 650).attr("height", 216)
  .attr("fill", "#fff").attr("stroke", "#000").attr("stroke-width", 1.2);
seriesNames.forEach((name, i) => {
  const ry = 105 + 42 * i;
  lg.append("line").attr("x1", 980).attr("x2", 1020).attr("y1", ry).attr("y2", ry)
    .attr("stroke", seriesColors[i]).attr("stroke-width", 2.2);
  lg.append("text").attr("x", 1026).attr("y", ry + 11).attr("font-size", 29)
    .attr("letter-spacing", 0.93).text(name);
});
</script>
</body></html>
